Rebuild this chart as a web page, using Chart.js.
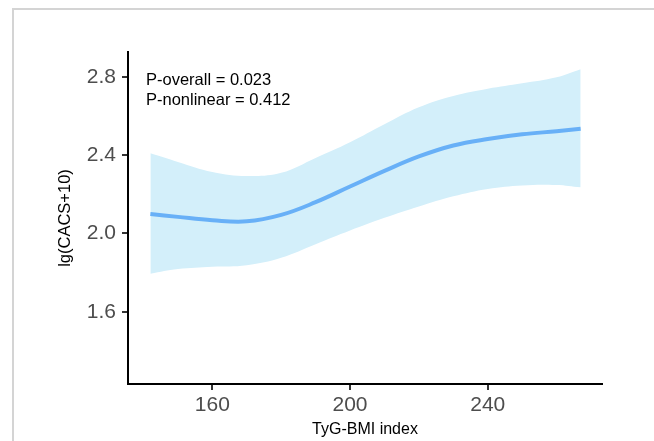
<!DOCTYPE html>
<html>
<head>
<meta charset="utf-8">
<script src="https://cdn.jsdelivr.net/npm/chart.js@4"></script>
<style>
  body { margin: 0; background: #fff; }
  #frame { position: absolute; left: 12px; top: 8px; width: 700px; height: 500px;
           border-left: 2px solid #d4d4d4; border-top: 2px solid #d4d4d4; }
  #wrap { position: absolute; left: 0; top: 0; width: 654px; height: 441px; }
</style>
</head>
<body>
<div id="frame"></div>
<div id="wrap"><canvas id="myChart" width="654" height="441"></canvas></div>
<script>
// TyG-BMI index values where the curve was read
var xs = [142, 150, 160, 170, 180, 190, 200, 210, 220, 230, 240, 250, 260, 267];
// fitted lg(CACS+10)
var fit = [2.10, 2.085, 2.068, 2.062, 2.095, 2.16, 2.24, 2.32, 2.394, 2.45, 2.483, 2.507, 2.523, 2.535];
// 95% CI
var upper = [2.41, 2.366, 2.315, 2.294, 2.31, 2.386, 2.466, 2.558, 2.645, 2.703, 2.74, 2.768, 2.799, 2.84];
var lower = [1.794, 1.818, 1.83, 1.838, 1.876, 1.945, 2.015, 2.08, 2.138, 2.19, 2.228, 2.246, 2.248, 2.236];

var xTicks = [160, 200, 240];
var yTicks = [1.6, 2.0, 2.4, 2.8];
var notes = ['P-overall = 0.023', 'P-nonlinear = 0.412'];

function pts(ys) {
  return xs.map(function (x, i) { return {x: x, y: ys[i]}; });
}

var notePlugin = {
  id: 'notes',
  afterDraw: function (chart) {
    var ctx = chart.ctx;
    ctx.save();
    ctx.fillStyle = '#000';
    ctx.font = '16.5px "Liberation Sans", Arial, sans-serif';
    ctx.textAlign = 'left';
    ctx.textBaseline = 'alphabetic';
    notes.forEach(function (t, i) {
      ctx.fillText(t, 146, 85 + i * 19.5);
    });
    ctx.restore();
  }
};

var ctx = document.getElementById('myChart');
var chart = new Chart(ctx, {
  type: 'line',
  data: {
    datasets: [{
      label: 'upper',
      data: pts(upper),
      borderWidth: 0,
      borderColor: 'rgba(0,0,0,0)',
      pointRadius: 0,
      backgroundColor: '#d3effa',
      fill: '+1',
      tension: 0.4,
      order: 2
    }, {
      label: 'lower',
      data: pts(lower),
      borderWidth: 0,
      borderColor: 'rgba(0,0,0,0)',
      pointRadius: 0,
      fill: false,
      tension: 0.4,
      order: 3
    }, {
      label: 'fit',
      data: pts(fit),
      borderColor: '#68b0f7',
      borderWidth: 4,
      pointRadius: 0,
      fill: false,
      tension: 0.4,
      order: 0
    }]
  },
  options: {
    responsive: false,
    animation: false,
    layout: { padding: { top: 52, right: 52, left: 0, bottom: 0 } },
    plugins: { legend: { display: false }, tooltip: { enabled: false } },
    scales: {
      x: {
        type: 'linear',
        min: 135.5,
        max: 273.2,
        afterFit: function (s) { s.height = 57; },
        afterBuildTicks: function (s) { s.ticks = xTicks.map(function (v) { return {value: v}; }); },
        ticks: {
          color: '#4d4d4d',
          font: { size: 21, family: '"Liberation Sans", Arial, sans-serif' },
          padding: 3,
          maxRotation: 0
        },
        grid: { drawOnChartArea: false, drawTicks: true, tickLength: 6, color: '#333', lineWidth: 2 },
        border: { display: true, color: '#000', width: 2 },
        title: {
          display: true,
          text: 'TyG-BMI index',
          color: '#000',
          font: { size: 16, family: '"Liberation Sans", Arial, sans-serif' },
          padding: { top: 0, bottom: 2 }
        }
      },
      y: {
        min: 1.2304,
        max: 2.928,
        afterFit: function (s) { s.width = 128; },
        afterBuildTicks: function (s) { s.ticks = yTicks.map(function (v) { return {value: v}; }); },
        ticks: {
          color: '#4d4d4d',
          font: { size: 21, family: '"Liberation Sans", Arial, sans-serif' },
          padding: 6,
          callback: function (v) { return v.toFixed(1); }
        },
        grid: { drawOnChartArea: false, drawTicks: true, tickLength: 6, color: '#333', lineWidth: 2 },
        border: { display: true, color: '#000', width: 2 },
        title: {
          display: true,
          text: 'lg(CACS+10)',
          color: '#000',
          font: { size: 16.5, family: '"Liberation Sans", Arial, sans-serif' },
          padding: { top: 56, bottom: 0 }
        }
      }
    }
  },
  plugins: [notePlugin]
});
</script>
</body>
</html>
